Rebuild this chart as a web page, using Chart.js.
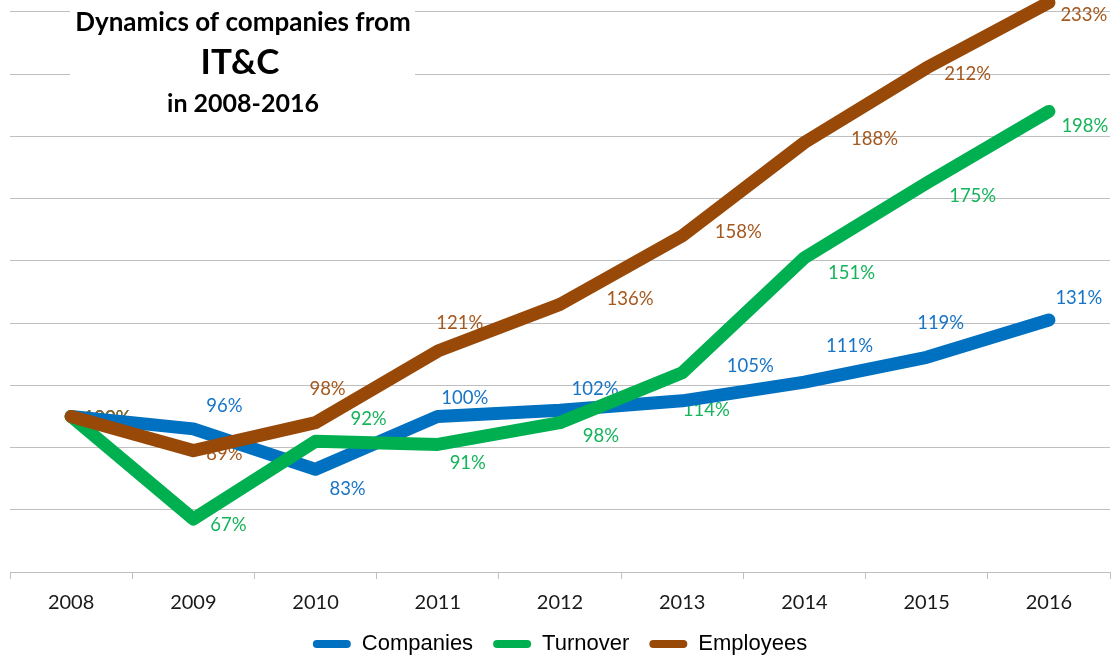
<!DOCTYPE html>
<html>
<head>
<meta charset="utf-8">
<script src="https://cdn.jsdelivr.net/npm/chart.js@4.4.1/dist/chart.umd.min.js"></script>
<style>
  html, body { margin: 0; background: #fff; height: 659px; overflow: hidden; }
  #wrap { width: 1115px; height: 665px; }
</style>
</head>
<body>
<div id="wrap"><canvas id="itcChart"></canvas></div>
<script>
// values in % of 2008
const years = ['2008', '2009', '2010', '2011', '2012', '2013', '2014', '2015', '2016'];
const companies = [100, 96, 83, 100, 102, 105, 111, 119, 131];
const turnover = [100, 67, 92, 91, 98, 114, 151, 175, 198];
const employees = [100, 89, 98, 121, 136, 158, 188, 212, 233];
const gridValues = [50, 70, 90, 110, 130, 150, 170, 190, 210, 230];

const BLUE = '#0070C0';
const GREEN = '#00B050';
const BROWN = '#984807';

// where each value label sits relative to its point (px)
const labelShift = {
    Companies: [[36, 2], [31, -23], [32, 20], [27, -18], [35, -21], [68, -35], [45, -36], [14, -34], [30, -22]],
    Turnover: [[36, 2], [35, 6], [53, -22], [30, 19], [41, 13], [24, 37], [47, 15], [46, 13], [36, 15]],
    Employees: [[36, 2], [31, 3], [12, -34], [22, -28], [70, -5], [56, -4], [70, -4], [41, 6], [35, 13]]
};

// labels go under the lines, like in the original
const valueLabels = {
    id: 'valueLabels',
    beforeDatasetsDraw(chart) {
        const ctx = chart.ctx;
        ctx.save();
        ctx.font = '18.5px Lato';
        ctx.textAlign = 'center';
        ctx.textBaseline = 'middle';
        chart.data.datasets.forEach((ds, i) => {
            const meta = chart.getDatasetMeta(i);
            const shifts = labelShift[ds.label];
            ctx.fillStyle = ds.labelColor;
            meta.data.forEach((pt, j) => {
                ctx.fillText(ds.data[j] + '%', pt.x + shifts[j][0], pt.y + shifts[j][1]);
            });
        });
        ctx.restore();
    }
};

const titleBox = {
    id: 'titleBox',
    afterDraw(chart) {
        const ctx = chart.ctx;
        ctx.save();
        ctx.fillStyle = '#fff';
        ctx.fillRect(70, 0, 345, 122);
        ctx.fillStyle = '#000';
        ctx.textAlign = 'center';
        ctx.textBaseline = 'middle';
        ctx.font = 'bold 26px Lato';
        ctx.fillText('Dynamics of companies from', 243, 23);
        ctx.font = 'bold 35px Lato';
        ctx.fillText('IT&C', 240, 63);
        ctx.font = 'bold 25px Lato';
        ctx.fillText('in 2008-2016', 243, 104);
        ctx.restore();
    }
};

const ctx = document.getElementById('itcChart').getContext('2d');
new Chart(ctx, {
    type: 'line',
    data: {
        labels: years,
        datasets: [{
            label: 'Companies',
            data: companies,
            borderColor: BLUE,
            backgroundColor: BLUE,
            labelColor: '#1874C6',
            order: 2
        }, {
            label: 'Turnover',
            data: turnover,
            borderColor: GREEN,
            backgroundColor: GREEN,
            labelColor: '#14B45A',
            order: 1
        }, {
            label: 'Employees',
            data: employees,
            borderColor: BROWN,
            backgroundColor: BROWN,
            labelColor: '#A5581E',
            order: 0
        }]
    },
    options: {
        responsive: true,
        maintainAspectRatio: false,
        animation: false,
        layout: { padding: { left: 10, right: 5, top: 0, bottom: 0 } },
        elements: {
            line: { borderWidth: 13, tension: 0, borderCapStyle: 'round', borderJoinStyle: 'round' },
            point: { radius: 0, hoverRadius: 0 }
        },
        datasets: { line: { clip: false } },
        scales: {
            x: {
                offset: true,
                grid: { offset: true, drawOnChartArea: false, drawTicks: true, tickLength: 7, color: '#bfbfbf' },
                border: { color: '#bfbfbf' },
                ticks: { font: { family: 'Lato', size: 20 }, color: '#1a1a1a', padding: 12 },
                afterFit(scale) {
                    scale.height -= 14;
                }
            },
            y: {
                min: 50,
                max: 233.8,
                afterBuildTicks(axis) {
                    axis.ticks = gridValues.map(v => ({ value: v }));
                },
                ticks: { display: false },
                border: { display: false },
                grid: { color: '#bfbfbf', drawTicks: false }
            }
        },
        plugins: {
            title: { display: false },
            tooltip: { enabled: false },
            legend: {
                position: 'bottom',
                labels: {
                    boxWidth: 38,
                    boxHeight: 8,
                    useBorderRadius: true,
                    borderRadius: 4,
                    padding: 20,
                    color: '#000',
                    font: { family: 'Liberation Sans', size: 22 },
                    sort: (a, b) => a.datasetIndex - b.datasetIndex,
                    generateLabels(chart) {
                        return Chart.defaults.plugins.legend.labels.generateLabels(chart)
                            .map(item => Object.assign(item, { lineWidth: 0 }));
                    }
                }
            }
        }
    },
    plugins: [valueLabels, titleBox]
});
</script>
</body>
</html>
